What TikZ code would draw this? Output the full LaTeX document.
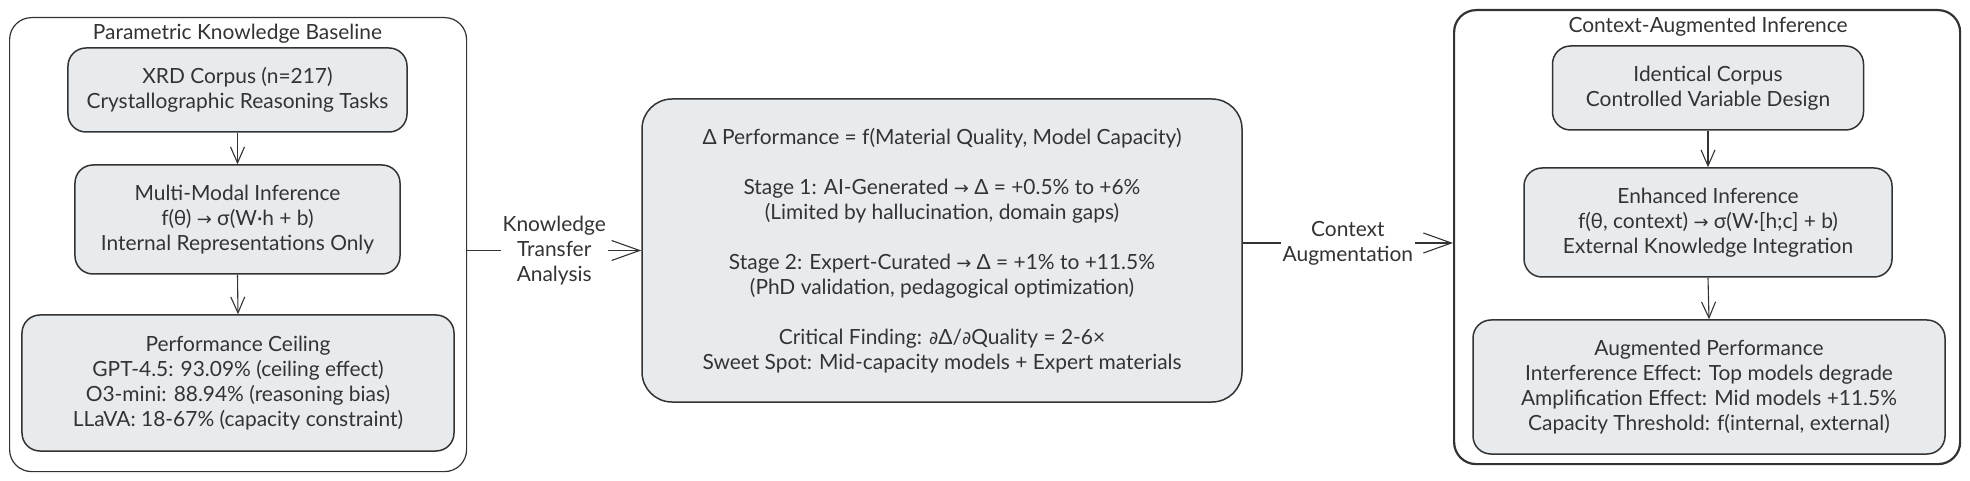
\documentclass[tikz,border=0pt]{standalone}
\usepackage{fontspec}
\setmainfont{Lato}
\newfontfamily\symf{DejaVu Sans}
\usetikzlibrary{arrows.meta,calc}
\definecolor{boxfill}{HTML}{E8EBEE}
\definecolor{ink}{HTML}{333333}
\tikzset{
  txt/.style={font=\fontsize{21}{25}\selectfont, text=ink},
  outerbox/.style={draw=ink, fill=white, rounded corners=22bp, line width=1.2bp},
  innerbox/.style={txt, draw=ink, fill=boxfill, rounded corners=18bp, line width=1.5bp,
     align=center, inner sep=0pt},
  vconn/.style={draw=ink, line width=1.1bp, -{Straight Barb[length=16bp,width=14bp,line width=1.1bp]}},
  hconn/.style={draw=ink, line width=1.1bp, -{Straight Barb[length=28bp,width=20bp,line width=1.1bp]}},
  edgelabel/.style={txt, fill=white, align=center, inner sep=2bp},
}
\newcommand{\arr}{{\symf\fontsize{18}{25}\selectfont →}}
\begin{document}
\begin{tikzpicture}[x=1bp,y=-1bp]
\useasboundingbox (0,0) rectangle (1970,481);
% left cluster
\node[outerbox, minimum width=457bp, minimum height=454bp, anchor=north west] (Lout) at (9,17) {};
\node[txt] (Ltitle) at (237.5,34) {Parametric Knowledge Baseline};
\node[innerbox, minimum width=339bp, minimum height=84bp] (L1) at (237.5,90)
  {XRD Corpus (n=217)\\Crystallographic Reasoning Tasks};
\node[innerbox, minimum width=325bp, minimum height=109bp] (L2) at (237.5,219.5)
  {Multi-Modal Inference\\f(θ) \arr{} σ(W·h + b)\\Internal Representations Only};
\node[innerbox, minimum width=432bp, minimum height=136bp] (L3) at (238,383)
  {Performance Ceiling\\GPT-4.5: 93.09\% (ceiling effect)\\O3-mini: 88.94\% (reasoning bias)\\LLaVA: 18-67\% (capacity constraint)};
\draw[vconn] (L1.south) -- (L2.north);
\draw[vconn] (L2.south) -- (L3.north);
% middle
\node[innerbox, rounded corners=30bp, minimum width=600bp, minimum height=303bp] (mid) at (942,250.5)
  {Δ Performance = f(Material Quality, Model Capacity)\\[25bp]
   Stage 1: AI-Generated \arr{} Δ = +0.5\% to +6\%\\(Limited by hallucination, domain gaps)\\[25bp]
   Stage 2: Expert-Curated \arr{} Δ = +1\% to +11.5\%\\(PhD validation, pedagogical optimization)\\[25bp]
   Critical Finding: {\symf\fontsize{18}{25}\selectfont ∂}Δ/{\symf\fontsize{18}{25}\selectfont ∂}Quality = 2-6×\\Sweet Spot: Mid-capacity models + Expert materials};
% right cluster
\node[outerbox, line width=2.2bp, minimum width=506bp, minimum height=454bp, anchor=north west] (Rout) at (1453,9) {};
\node[txt] (Rtitle) at (1708,27) {Context-Augmented Inference};
\node[innerbox, minimum width=311bp, minimum height=84bp] (R1) at (1708,88)
  {Identical Corpus\\Controlled Variable Design};
\node[innerbox, minimum width=368bp, minimum height=109bp] (R2) at (1708,222.5)
  {Enhanced Inference\\f(θ, context) \arr{} σ(W·[h;c] + b)\\External Knowledge Integration};
\node[innerbox, minimum width=472bp, minimum height=134bp] (R3) at (1709,387)
  {Augmented Performance\\Interference Effect: Top models degrade\\Amplification Effect: Mid models +11.5\%\\Capacity Threshold: f(internal, external)};
\draw[vconn] (R1.south) -- (R2.north);
\draw[vconn] (R2.south) -- (R3.north);
% connectors
\draw[hconn] (Lout.east |- mid.west) -- node[edgelabel] (k1) {Knowledge\\Transfer\\Analysis} (mid.west);
\coordinate (c2a) at ($(mid.east)+(0,-7.5)$);
\draw[hconn] (c2a) -- node[edgelabel] (k2) {Context\\Augmentation} (Rout.west |- c2a);
\end{tikzpicture}
\end{document}
